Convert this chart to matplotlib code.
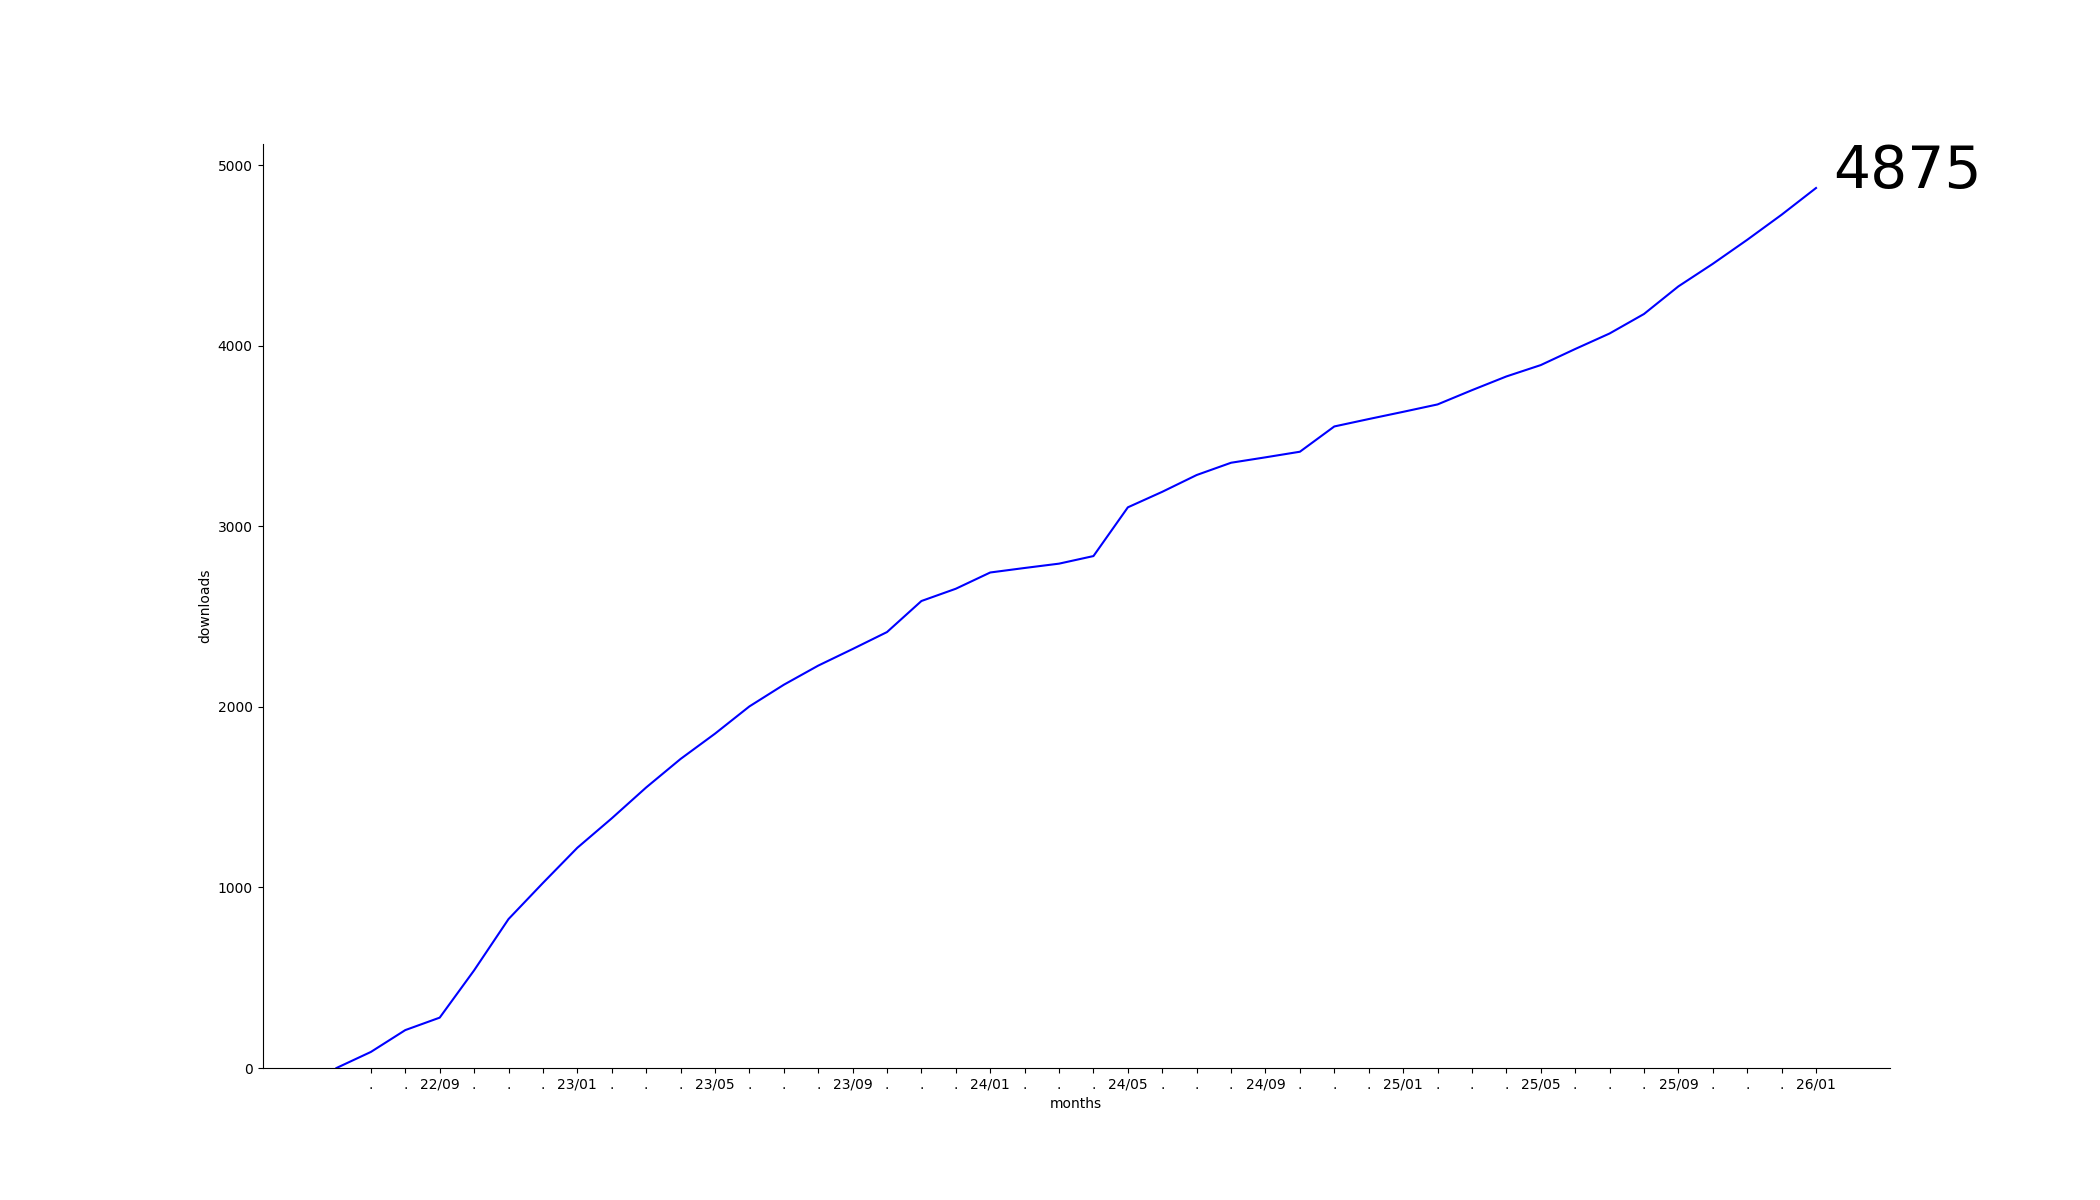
import matplotlib
matplotlib.use('Agg')
import matplotlib.pyplot as plt
import numpy as np
import pandas as pd

# monthly cumulative downloads, starting 2022/06
start_month = '2022-06'
downloads = [0, 89, 210, 279, 541, 825, 1025, 1220, 1383, 1554,
             1712, 1852, 2003, 2123, 2229, 2321, 2415, 2587, 2655, 2745,
             2770, 2794, 2836, 3106, 3192, 3285, 3353, 3383, 3414, 3554,
             3595, 3635, 3676, 3755, 3831, 3894, 3983, 4069, 4177, 4330,
             4455, 4588, 4727, 4875]

months = pd.date_range(start_month, periods=len(downloads), freq='MS').strftime('%y/%m')
x = np.arange(len(downloads))

fig, ax = plt.subplots(figsize=(21, 12), dpi=100)
ax.plot(x, downloads, color='blue')

# one tick per month, a label every 4 months, dots in between
tick_pos = x[1:]
tick_labels = [m if (i - 3) % 4 == 0 else '.' for i, m in zip(tick_pos, months[1:])]
ax.set_xticks(tick_pos)
ax.set_xticklabels(tick_labels)

ax.set_ylim(bottom=0)
ax.set_xlabel('months')
ax.set_ylabel('downloads')
ax.spines['top'].set_visible(False)
ax.spines['right'].set_visible(False)

ax.text(x[-1] + 0.5, downloads[-1], str(downloads[-1]), fontsize=42, va='baseline')

plt.savefig('out.png')
